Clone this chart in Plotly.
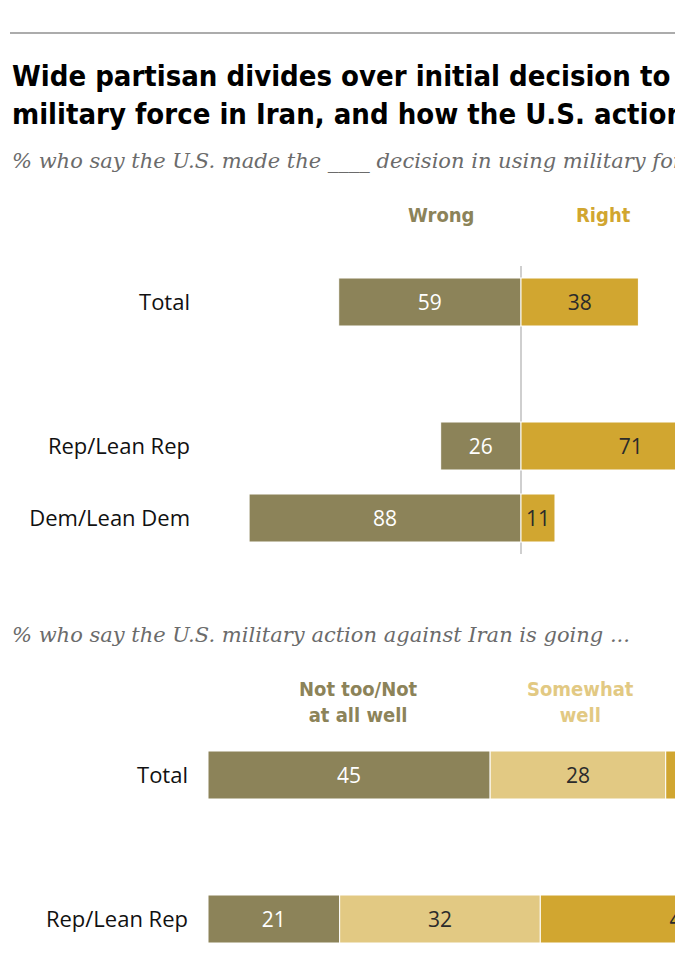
import plotly.graph_objects as go

W, H = 675, 965

# ---- Data: chart 1 (decision to use military force) ----
groups1 = ["Total", " ", "Rep/Lean Rep", "Dem/Lean Dem"]
wrong = [59, None, 26, 88]
right = [38, None, 71, 11]

# ---- Data: chart 2 (how the military action is going) ----
groups2 = ["Total", " ", "Rep/Lean Rep"]
not_well = [45, None, 21]
somewhat_well = [28, None, 32]
very_well = [25, None, 45]

C_OLIVE = "#8C8359"
C_GOLD = "#D1A630"
C_LIGHT = "#E2C983"
TXT_DARK = "#2b2b2b"

COND = "Liberation Sans Narrow, DejaVu Sans Condensed, Roboto, sans-serif"
BODY = "Open Sans, Roboto, Liberation Sans, sans-serif"
SERIF = "DejaVu Serif, Liberation Serif, serif"


def lab(vals):
    return ["" if v is None else str(v) for v in vals]


def py(px):
    return 1 - px / H


fig = go.Figure()

# chart 1 bars
fig.add_trace(go.Bar(
    y=groups1, x=[None if v is None else -v for v in wrong], orientation="h",
    marker=dict(color=C_OLIVE, line=dict(color="#ffffff", width=1)),
    text=lab(wrong), textposition="inside", insidetextanchor="middle",
    textfont=dict(color="white", size=21, family=BODY), constraintext="none",
    xaxis="x", yaxis="y", showlegend=False, hoverinfo="skip"))
fig.add_trace(go.Bar(
    y=groups1, x=right, orientation="h",
    marker=dict(color=C_GOLD, line=dict(color="#ffffff", width=1)),
    text=lab(right), textposition="inside", insidetextanchor="middle",
    textfont=dict(color=TXT_DARK, size=21, family=BODY), constraintext="none",
    xaxis="x", yaxis="y", showlegend=False, hoverinfo="skip"))

# chart 2 bars
for vals, col, tcol in [(not_well, C_OLIVE, "white"),
                        (somewhat_well, C_LIGHT, TXT_DARK),
                        (very_well, C_GOLD, TXT_DARK)]:
    fig.add_trace(go.Bar(
        y=groups2, x=vals, orientation="h",
        marker=dict(color=col, line=dict(color="#ffffff", width=1)),
        text=lab(vals), textposition="inside", insidetextanchor="middle",
        textfont=dict(color=tcol, size=21, family=BODY), constraintext="none",
        xaxis="x2", yaxis="y2", showlegend=False, hoverinfo="skip"))

x1_zero, x1_ppu = 521, 3.09
x2_zero, x2_ppu = 208, 6.27

fig.update_layout(
    width=W, height=H, margin=dict(l=0, r=0, t=0, b=0),
    paper_bgcolor="white", plot_bgcolor="white",
    barmode="relative", bargap=1 - 48 / 72,
    xaxis=dict(domain=[0, 1], range=[-x1_zero / x1_ppu, (W - x1_zero) / x1_ppu],
               showgrid=False, showticklabels=False, zeroline=True,
               zerolinecolor="#cfcfcf", zerolinewidth=1.5, fixedrange=True,
               anchor="y"),
    yaxis=dict(domain=[py(554), py(266)], range=[3.5, -0.5], type="category",
               categoryorder="array", categoryarray=groups1,
               showgrid=False, zeroline=False, showline=False, ticks="",
               anchor="free", position=190 / W, fixedrange=True,
               tickfont=dict(size=22, family=BODY, color="#111")),
    xaxis2=dict(domain=[0, 1], range=[-x2_zero / x2_ppu, (W - x2_zero) / x2_ppu],
                showgrid=False, showticklabels=False, zeroline=False,
                fixedrange=True, anchor="y2"),
    yaxis2=dict(domain=[py(955), py(739)], range=[2.5, -0.5], type="category",
                categoryorder="array", categoryarray=groups2,
                showgrid=False, zeroline=False, showline=False, ticks="",
                anchor="free", position=188 / W, fixedrange=True,
                tickfont=dict(size=22, family=BODY, color="#111")),
    font=dict(family=BODY),
)

# top rule
fig.add_shape(type="line", xref="paper", yref="paper",
              x0=10 / W, x1=1, y0=py(33), y1=py(33),
              line=dict(color="#5a5a5a", width=1.2))

ann = []
ann.append(dict(text="<b>Wide partisan divides over initial decision to use</b><br>"
                     "<b>military force in Iran, and how the U.S. action is going</b>",
                xref="paper", yref="paper", x=10 / W, y=py(95), xanchor="left",
                yanchor="middle", align="left", showarrow=False,
                font=dict(family=COND, size=29, color="#000")))
ann.append(dict(text="<i>% who say the U.S. made the ____ decision in using military force against Iran</i>",
                xref="paper", yref="paper", x=10 / W, y=py(161), xanchor="left",
                yanchor="middle", showarrow=False,
                font=dict(family=SERIF, size=21, color="#6b6b6b")))
ann.append(dict(text="<i>% who say the U.S. military action against Iran is going ...</i>",
                xref="paper", yref="paper", x=10 / W, y=py(635), xanchor="left",
                yanchor="middle", showarrow=False,
                font=dict(family=SERIF, size=21, color="#6b6b6b")))
ann.append(dict(text="<b>Wrong</b>", xref="paper", yref="paper", x=441 / W, y=py(215),
                xanchor="center", yanchor="middle",
                showarrow=False, font=dict(family=COND, size=20, color=C_OLIVE)))
ann.append(dict(text="<b>Right</b>", xref="paper", yref="paper", x=603 / W, y=py(215),
                xanchor="center", yanchor="middle",
                showarrow=False, font=dict(family=COND, size=20, color=C_GOLD)))
ann.append(dict(text="<b>Not too/Not</b><br><b>at all well</b>", xref="paper", yref="paper",
                x=358 / W, y=py(702), xanchor="center", yanchor="middle", showarrow=False,
                font=dict(family=COND, size=20, color=C_OLIVE)))
ann.append(dict(text="<b>Somewhat</b><br><b>well</b>", xref="paper", yref="paper",
                x=580 / W, y=py(702), xanchor="center", yanchor="middle", showarrow=False,
                font=dict(family=COND, size=20, color=C_LIGHT)))
fig.update_layout(annotations=ann)

fig.write_html("out.html",
               config={"displayModeBar": False},
               post_script="document.body.style.margin='0';"
                           "document.documentElement.style.overflow='hidden';"
                           "document.body.style.overflow='hidden';")
